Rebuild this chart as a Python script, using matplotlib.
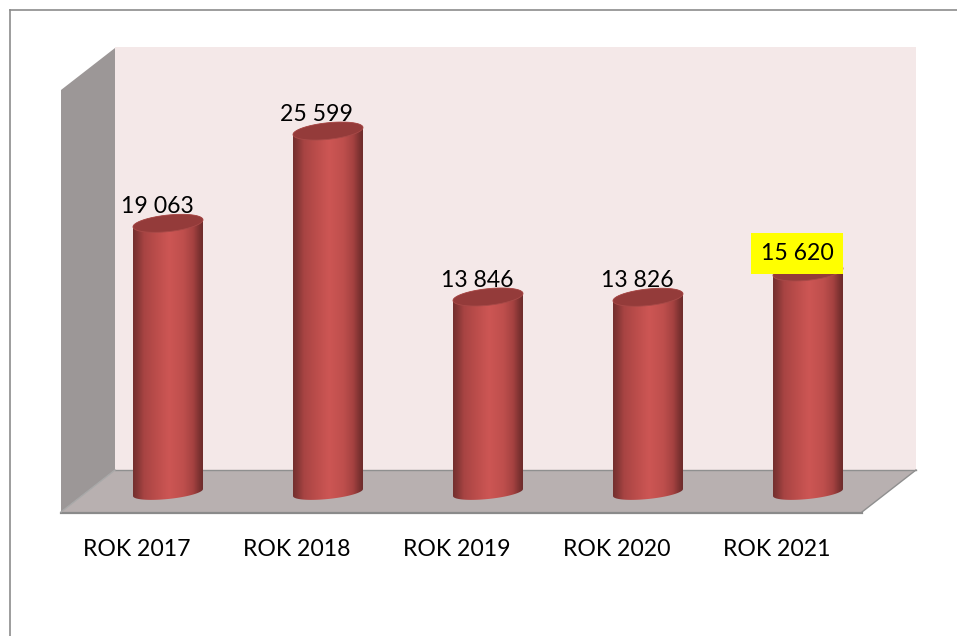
import numpy as np
import matplotlib
matplotlib.use('Agg')
import matplotlib.pyplot as plt
from matplotlib.colors import LinearSegmentedColormap
from matplotlib.patches import Polygon
from matplotlib.transforms import Affine2D

categories = ['ROK 2017', 'ROK 2018', 'ROK 2019', 'ROK 2020', 'ROK 2021']
values = [19063, 25599, 13846, 13826, 15620]
value_labels = ['19\u00a0063', '25\u00a0599', '13\u00a0846', '13\u00a0826', '15\u00a0620']
highlighted = ['ROK 2021']

W, H = 957, 636
plt.rcParams['font.family'] = ['Lato', 'DejaVu Sans']

fig = plt.figure(figsize=(W / 100, H / 100), dpi=100, facecolor='white')
px = Affine2D().scale(1, -1).translate(0, H)  # pixel coords, y going down


def shape(points, color):
    fig.add_artist(Polygon(points, closed=True, facecolor=color, edgecolor='none',
                           linewidth=0, transform=px, zorder=-3))


# the room: back wall, side wall, floor and the outer frame
shape([(115, 47), (916, 47), (916, 470), (115, 470)], '#f4e8e8')
shape([(61, 90), (115, 48), (115, 470), (61, 512)], '#9c9797')
shape([(115, 470), (916, 470), (862, 512), (61, 512)], '#b8b0b0')
for a, b, c, lw in [((115, 470), (916, 470), '#8f8f8f', 1.0),
                    ((916, 470), (862, 512), '#8f8f8f', 1.0),
                    ((61, 512.5), (862, 512.5), '#8a8a8a', 1.6),
                    ((61, 512), (115, 470), '#a8a8a8', 1.0),
                    ((9.5, 9.5), (957, 9.5), '#8c8c8c', 1.2),
                    ((9.5, 9.5), (9.5, 636), '#8c8c8c', 1.2)]:
    fig.add_artist(plt.Line2D([a[0], b[0]], [a[1], b[1]], color=c, lw=lw, transform=px, zorder=-2))

# axes on the front plane of the chart, zero line at the foot of the bars
ax = fig.add_axes([57 / W, (H - 492.5) / H, 800 / W, 445.5 / H])
ax.patch.set_alpha(0)
for s in ax.spines.values():
    s.set_visible(False)
sx = 160.0              # pixels per category
sy = 445.5 / 31551      # pixels per unit
shift = 31 / sx         # bars stand further back than the category labels
half_w = 35 / sx
rx, ry, slope = 35.0, 8.3, 0.1

body = LinearSegmentedColormap.from_list('body', [
    (0.00, '#74302f'), (0.06, '#853635'), (0.16, '#a84443'), (0.35, '#bd4e4c'),
    (0.52, '#cd5654'), (0.72, '#bf4f4d'), (0.86, '#a54241'), (0.95, '#7d3231'),
    (1.00, '#6e2c2c')])
grad = np.linspace(0, 1, 256).reshape(1, -1)


def ring(cx, v, t, b=ry):
    # tilted ellipse round the bar axis, back in data units
    xs = rx * np.cos(t)
    ys = b * np.sin(t) + slope * rx * np.cos(t)
    return np.column_stack([cx + xs / sx, v + ys / sy])


for i, (cat, v, lab) in enumerate(zip(categories, values, value_labels)):
    cx = i + shift
    lower = ring(cx, 0, np.linspace(np.pi, 2 * np.pi, 60), b=6.5)
    upper = ring(cx, v, np.linspace(0, np.pi, 60))
    outline = Polygon(np.vstack([lower, upper]), closed=True, transform=ax.transData,
                      facecolor='none', edgecolor='none')
    ax.add_patch(outline)
    im = ax.imshow(grad, cmap=body, aspect='auto', zorder=3,
                   extent=[cx - half_w, cx + half_w, -12 / sy, v + 12 / sy])
    im.set_clip_box(fig.bbox)
    im.set_clip_path(outline)
    cap = ring(cx, v, np.linspace(0, 2 * np.pi, 120))
    ax.add_patch(Polygon(cap, closed=True, facecolor='#943b3a', edgecolor='#a84a48',
                         linewidth=0.6, zorder=4, clip_on=False))
    if cat in highlighted:
        ax.annotate(lab, (cx, v), xytext=(-8, 13.2), textcoords='offset points',
                    ha='center', va='center', fontsize=16.6, color='black', zorder=6,
                    bbox=dict(boxstyle='square,pad=0.42', facecolor='#ffff00', edgecolor='none'),
                    annotation_clip=False)
    else:
        ax.annotate(lab, (cx, v), xytext=(-8, 12), textcoords='offset points',
                    ha='center', va='center', fontsize=16.6, color='black', zorder=6,
                    annotation_clip=False)

ax.set_xlim(-0.5, 4.5)
ax.set_ylim(0, 31551)
ax.set_yticks([])
ax.set_xticks(range(len(categories)))
ax.set_xticklabels(categories, fontsize=16.6, color='black')
ax.tick_params(axis='x', length=0, pad=33.7)

plt.savefig('out.png', dpi=100)
